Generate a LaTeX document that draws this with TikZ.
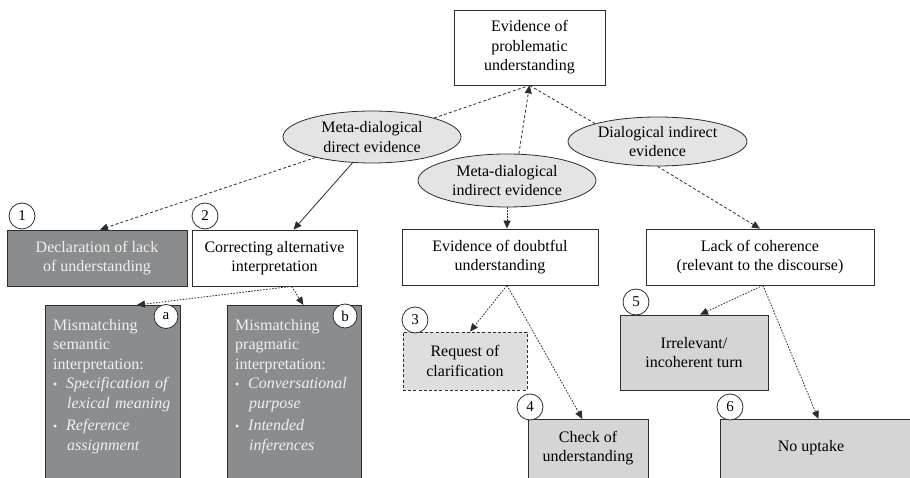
\documentclass[tikz,border=0pt]{standalone}
\usepackage{fontspec}
\setmainfont{Liberation Serif}
\usetikzlibrary{shapes.geometric,arrows.meta,calc}
\definecolor{linec}{RGB}{45,45,45}
\definecolor{darkfill}{RGB}{138,140,142}
\definecolor{lighttext}{RGB}{240,240,240}
\definecolor{ellfill}{RGB}{228,228,228}
\definecolor{greyfill}{RGB}{213,213,213}
\definecolor{paleful}{RGB}{221,222,221}
\begin{document}
\begin{tikzpicture}[x=1pt,y=-1pt,
  font=\fontsize{16}{19.5}\selectfont,
  box/.style={draw=linec, line width=0.8pt, rectangle, align=center, inner sep=0pt},
  darkbox/.style={box, fill=darkfill, text=lighttext},
  greybox/.style={box, fill=greyfill},
  ell/.style={ellipse, draw=linec, line width=0.8pt, fill=ellfill, align=center, inner sep=0pt},
  num/.style={circle, draw=linec, line width=0.8pt, fill=white, minimum size=26pt, inner sep=0pt, font=\fontsize{15}{15}\selectfont},
  listtext/.style={align=left, text width=126pt, inner sep=0pt, text=lighttext, anchor=north west},
  tip/.style={-{Triangle[length=8pt,width=7pt]}},
  dashconn/.style={tip, draw=linec, line width=0.8pt, dash pattern=on 3pt off 2.2pt},
  dotconn/.style={tip, draw=linec, line width=0.8pt, dash pattern=on 1.6pt off 1.4pt},
  solidconn/.style={tip, draw=linec, line width=0.8pt}
]
\useasboundingbox (0,0) rectangle (910,478);
\clip (0,0) rectangle (910,478);
\fill[white] (0,0) rectangle (910,478);

% top
\node[box, fill=white, minimum width=151pt, minimum height=75pt] (top) at (529.5,47.5)
  {Evidence of\\problematic\\understanding};

% ellipses
\node[ell, minimum width=178pt, minimum height=52pt] (e1) at (372,137) {Meta-dialogical\\direct evidence};
\node[ell, minimum width=179pt, minimum height=49pt] (e3) at (657.5,141.5) {Dialogical indirect\\evidence};
\node[ell, minimum width=178pt, minimum height=53pt] (e2) at (507,180.5) {Meta-dialogical\\indirect evidence};

% second row
\node[darkbox, minimum width=180pt, minimum height=56pt] (b1) at (97,258) {Declaration of lack\\of understanding};
\node[box, fill=white, minimum width=165pt, minimum height=56pt] (b2) at (274.5,258) {Correcting alternative\\interpretation};
\node[box, fill=white, minimum width=196pt, minimum height=56pt] (bd) at (500,257) {Evidence of doubtful\\understanding};
\node[box, fill=white, minimum width=228pt, minimum height=56pt] (bc) at (760,257) {Lack of coherence\\(relevant to the discourse)};

% a and b boxes
\node[darkbox, minimum width=135pt, minimum height=185pt, anchor=north west] (ba) at (45,305) {};
\node[listtext] (bat) at (53,319) {Mismatching\\semantic\\interpretation:\\
\makebox[13pt][l]{\scalebox{0.75}{\textbullet}}\textit{Specification of}\\
\hspace*{14pt}\textit{lexical meaning}\\[3pt]
\makebox[13pt][l]{\scalebox{0.75}{\textbullet}}\textit{Reference}\\
\hspace*{14pt}\textit{assignment}};
\node[darkbox, minimum width=134pt, minimum height=185pt, anchor=north west] (bb) at (227,305) {};
\node[listtext] (bbt) at (235,319) {Mismatching\\pragmatic\\interpretation:\\
\makebox[13pt][l]{\scalebox{0.75}{\textbullet}}\textit{Conversational}\\
\hspace*{14pt}\textit{purpose}\\[3pt]
\makebox[13pt][l]{\scalebox{0.75}{\textbullet}}\textit{Intended}\\
\hspace*{14pt}\textit{inferences}};

% lower boxes
\node[box, fill=paleful, dash pattern=on 3pt off 2.2pt, minimum width=124pt, minimum height=58pt] (b3) at (465,361) {Request of\\clarification};
\node[greybox, minimum width=120pt, minimum height=70pt, anchor=north west] (b4) at (528,419) {};
\node (b4t) at (588,448) [align=center, inner sep=0pt] {Check of\\understanding};
\node[greybox, minimum width=148pt, minimum height=75pt] (b5) at (694,352.5) {Irrelevant/\\incoherent turn};
\node[greybox, minimum width=200pt, minimum height=70pt, anchor=north west] (b6) at (720,419) {};
\node (b6t) at (811,448) [inner sep=0pt] {No uptake};

% numbers
\node[num] (n1) at (22,216) {1};
\node[num] (n2) at (205,216) {2};
\node[num, minimum size=24pt] (na) at (166,316.5) {a};
\node[num, minimum size=24pt] (nb) at (345,316) {b};
\node[num] (n3) at (415,320) {3};
\node[num] (n4) at (530,407) {4};
\node[num] (n5) at (636,302) {5};
\node[num] (n6) at (730,407) {6};

% connectors to top
\draw[dashconn, -] (e1.17) -- (top.south);
\draw[dashconn, -] (e3.164) -- (top.south);
\draw[dashconn] (e2.66) -- (top.south);

% from ellipses
\draw[dashconn] (e1.200) -- ($(b1.north)+(3,0)$);
\draw[solidconn] (e1.233) -- ($(b2.north)+(19,0)$);
\draw[dotconn] (e2.south) -- (e2.south |- bd.north);
\draw[dashconn] (e3.south) -- (bc.north);

% from second row
\coordinate (b2s) at ($(b2.south)+(17,0)$);
\draw[dotconn] (b2s) -- ($(ba.north)+(24,0)$);
\draw[dotconn] (b2s) -- ($(bb.north)+(9,0)$);
\coordinate (bds) at ($(bd.south)+(7,0)$);
\draw[dotconn] (bds) -- ($(b3.north)+(5,0)$);
\draw[dotconn] (bds) -- ($(b4.north)+(-6,0)$);
\coordinate (bcs) at ($(bc.south)+(3,0)$);
\draw[dotconn] (bcs) -- ($(b5.north)+(6,0)$);
\draw[dotconn] (bcs) -- ($(b6.north)+(-2,0)$);
\end{tikzpicture}
\end{document}
